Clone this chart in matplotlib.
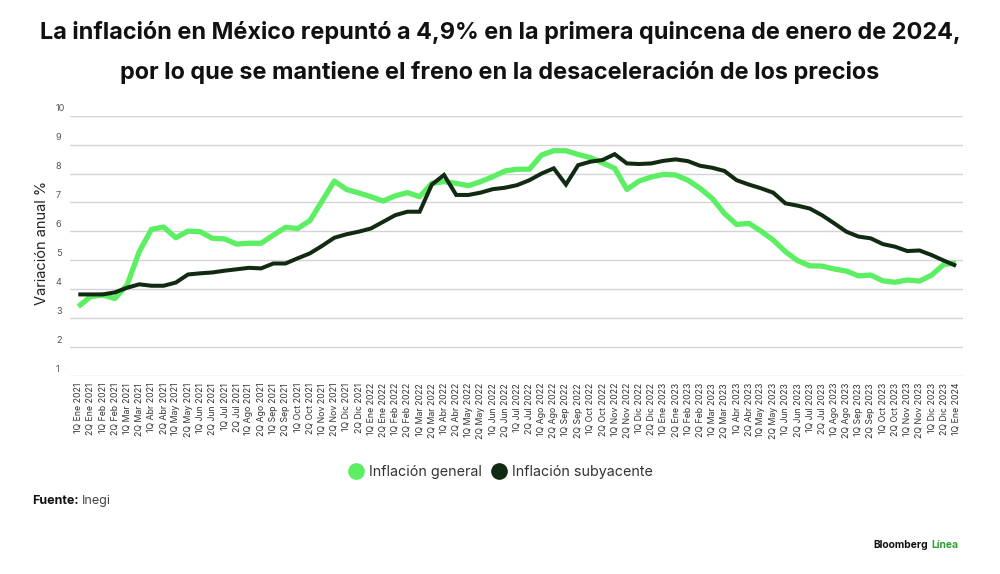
import matplotlib
matplotlib.use("Agg")
import matplotlib.pyplot as plt
from matplotlib.lines import Line2D
import matplotlib.transforms as mtransforms

plt.rcParams['font.family'] = ['Inter', 'Roboto', 'DejaVu Sans']

months = ["Ene", "Feb", "Mar", "Abr", "May", "Jun", "Jul", "Ago", "Sep", "Oct", "Nov", "Dic"]
labels = []
for year in (2021, 2022, 2023):
    for m in months:
        labels.append(f"1Q {m} {year}")
        labels.append(f"2Q {m} {year}")
labels.append("1Q Ene 2024")

general = [3.40, 3.74, 3.80, 3.68, 4.15, 5.30, 6.07, 6.15, 5.78, 6.01,
           5.99, 5.76, 5.74, 5.56, 5.59, 5.59, 5.87, 6.14, 6.10, 6.37,
           7.05, 7.74, 7.45, 7.33, 7.20, 7.05, 7.23, 7.34, 7.20, 7.66,
           7.72, 7.66, 7.58, 7.72, 7.89, 8.09, 8.15, 8.15, 8.64, 8.79,
           8.79, 8.66, 8.55, 8.37, 8.18, 7.45, 7.74, 7.88, 7.97, 7.95,
           7.77, 7.49, 7.14, 6.62, 6.24, 6.28, 6.01, 5.70, 5.30, 4.99,
           4.81, 4.80, 4.70, 4.63, 4.46, 4.49, 4.29, 4.24, 4.32, 4.28,
           4.49, 4.86, 4.90]

subyacente = [3.82, 3.82, 3.82, 3.89, 4.05, 4.17, 4.12, 4.12, 4.23, 4.51,
              4.55, 4.58, 4.64, 4.69, 4.74, 4.72, 4.89, 4.89, 5.07, 5.24,
              5.50, 5.78, 5.90, 5.99, 6.10, 6.33, 6.56, 6.68, 6.68, 7.62,
              7.95, 7.26, 7.26, 7.34, 7.46, 7.51, 7.60, 7.77, 8.00, 8.18,
              7.62, 8.29, 8.41, 8.47, 8.67, 8.35, 8.33, 8.35, 8.44, 8.49,
              8.43, 8.27, 8.20, 8.09, 7.77, 7.62, 7.49, 7.34, 6.97, 6.89,
              6.79, 6.56, 6.28, 5.99, 5.82, 5.76, 5.56, 5.47, 5.32, 5.34,
              5.18, 4.99, 4.81]

yticks = [1, 2, 3, 4, 5, 6, 7, 8, 9, 10]

c_gen = "#5cee63"
c_sub = "#112b12"

fig = plt.figure(figsize=(10, 5.74), dpi=100)
ax = fig.add_axes([0.07, 0.345, 0.893, 0.4534])

x = list(range(len(labels)))
ax.plot(x, general, color=c_gen, lw=3.8, solid_joinstyle='round', solid_capstyle='butt', zorder=3)
ax.plot(x, subyacente, color=c_sub, lw=2.9, solid_joinstyle='miter', solid_capstyle='butt', zorder=4)

ax.set_xlim(-0.68, len(labels) - 1 + 0.57)
ax.set_ylim(1, 10)
for s in ax.spines.values():
    s.set_visible(False)
ax.set_yticks(yticks)
ax.yaxis.grid(True, color="#d4d4d4", lw=1.0)
ax.set_axisbelow(True)
ax.tick_params(axis='y', length=0, labelleft=False)
trans = mtransforms.blended_transform_factory(fig.transFigure, ax.transData)
for v in yticks:
    ax.text(0.056, v + 0.08, str(v), transform=trans, ha='left', va='bottom',
            fontsize=6.6, color="#555555")

ax.set_xticks(x)
ax.set_xticklabels(labels, rotation=90, fontsize=6.3, color="#333333")
ax.tick_params(axis='x', length=0, pad=5)

fig.text(0.042, 1 - 243 / 574, "Variación anual %", rotation=90, ha='center', va='center',
         fontsize=10.5, color="#222222")

fig.text(0.5, 1 - 33 / 574,
         "La inflación en México repuntó a 4,9% en la primera quincena de enero de 2024,",
         ha='center', va='center', fontsize=16.9, fontweight='bold', color="#111111")
fig.text(0.5, 1 - 72 / 574,
         "por lo que se mantiene el freno en la desaceleración de los precios",
         ha='center', va='center', fontsize=16.9, fontweight='bold', color="#111111")

handles = [Line2D([], [], marker='o', linestyle='', markersize=11, color=c_gen),
           Line2D([], [], marker='o', linestyle='', markersize=11, color=c_sub)]
fig.legend(handles, ["Inflación general", "Inflación subyacente"], loc='center',
           bbox_to_anchor=(0.5, 1 - 472 / 574), ncol=2, frameon=False, fontsize=10.3,
           handletextpad=0.3, columnspacing=0.6, handlelength=1.2, labelcolor="#333333")

fig.text(0.032, 1 - 501 / 574, "Fuente:", ha='left', va='center', fontsize=9,
         fontweight='bold', color="#111111")
fig.text(0.082, 1 - 501 / 574, "Inegi", ha='left', va='center', fontsize=9, color="#444444")

fig.text(0.873, 1 - 545 / 574, "Bloomberg", ha='left', va='center', fontsize=7.4,
         fontweight='bold', color="#111111")
fig.text(0.931, 1 - 545 / 574, "Línea", ha='left', va='center', fontsize=7.4,
         fontweight='bold', color="#2f9e34")

fig.savefig("out.png", dpi=100, facecolor="white")
